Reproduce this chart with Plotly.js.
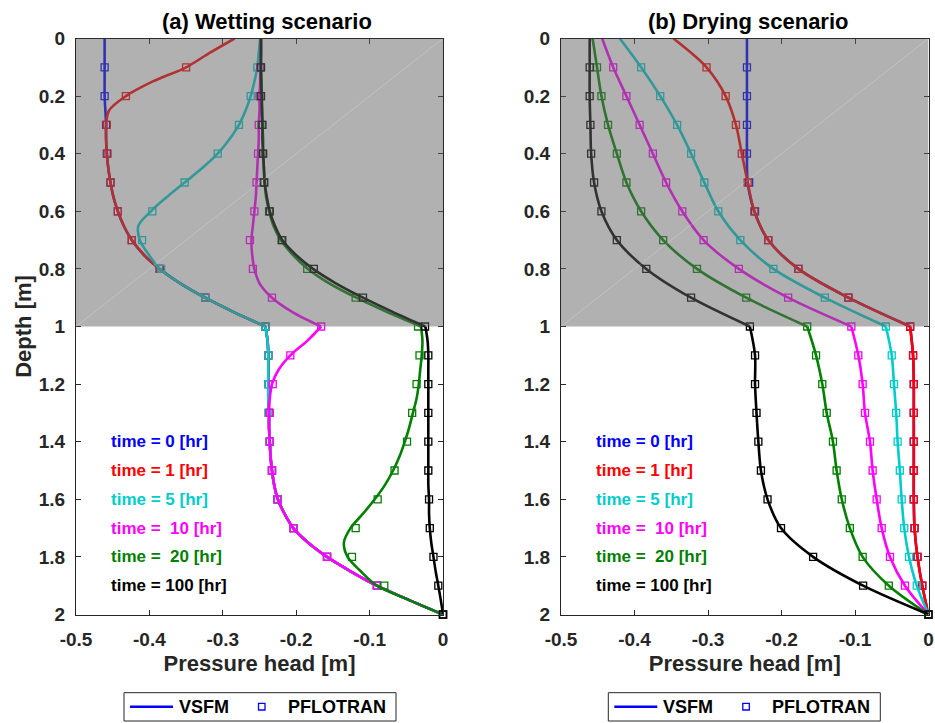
<!DOCTYPE html>
<html><head><meta charset="utf-8">
<script src="https://cdn.plot.ly/plotly-3.0.1.min.js"></script>
<style>html,body{margin:0;padding:0;background:#fff}#chart{width:935px;height:723px}</style>
</head><body><div id="chart"></div><script>
// ---------- DATA ----------
const depthLineWet = [0,0.05,0.1,0.15,0.2,0.25,0.3,0.35,0.4,0.45,0.5,0.55,0.6,0.65,0.7,0.75,0.8,0.85,0.9,0.95,1.0,
  1.05,1.1,1.15,1.2,1.25,1.3,1.35,1.4,1.45,1.5,1.55,1.6,1.65,1.7,1.75,1.8,1.85,1.9,1.95,2.0];
const depthLineDry = [0,0.1,0.2,0.3,0.4,0.5,0.6,0.7,0.8,0.9,1.0,1.1,1.2,1.3,1.4,1.5,1.6,1.7,1.8,1.9,2.0];
const depthMarker = [0.1,0.2,0.3,0.4,0.5,0.6,0.7,0.8,0.9,1.0,1.1,1.2,1.3,1.4,1.5,1.6,1.7,1.8,1.9,2.0];

const timeLabels = ['time = 0 [hr]','time = 1 [hr]','time = 5 [hr]','time =\u00a0 10 [hr]','time =\u00a0 20 [hr]','time = 100 [hr]'];
const timeColors = ['#0000ff','#ff0000','#00cccc','#ff00ff','#008000','#000000'];
const legendNames = ['VSFM','PFLOTRAN'];
const xTickVals = [-0.5,-0.4,-0.3,-0.2,-0.1,0];
const xTickText = ['-0.5','-0.4','-0.3','-0.2','-0.1','0'];
const yTickVals = [0,0.2,0.4,0.6,0.8,1,1.2,1.4,1.6,1.8,2];
const yTickText = ['0','0.2','0.4','0.6','0.8','1','1.2','1.4','1.6','1.8','2'];

// Wetting scenario, VSFM (lines)
const wetLine_t0 = [-0.461,-0.461,-0.461,-0.461,-0.461,-0.460,-0.459,-0.459,-0.458,-0.456,-0.453,-0.449,-0.443,-0.435,-0.424,-0.408,-0.386,-0.358,-0.324,-0.285,-0.242,
  -0.239,-0.238,-0.238,-0.238,-0.238,-0.237,-0.237,-0.236,-0.235,-0.233,-0.230,-0.225,-0.216,-0.204,-0.184,-0.158,-0.126,-0.090,-0.046,0];
const wetLine_t1 = [-0.284,-0.318,-0.350,-0.396,-0.432,-0.455,-0.459,-0.459,-0.458,-0.456,-0.453,-0.449,-0.443,-0.435,-0.424,-0.408,-0.386,-0.358,-0.324,-0.285,-0.242,
  -0.239,-0.238,-0.238,-0.238,-0.238,-0.237,-0.237,-0.236,-0.235,-0.233,-0.230,-0.225,-0.216,-0.204,-0.184,-0.158,-0.126,-0.090,-0.046,0];
const wetLine_t5 = [-0.249,-0.251,-0.253,-0.257,-0.262,-0.269,-0.278,-0.291,-0.307,-0.328,-0.352,-0.376,-0.398,-0.415,-0.413,-0.401,-0.386,-0.358,-0.324,-0.285,-0.242,
  -0.239,-0.238,-0.238,-0.238,-0.238,-0.237,-0.237,-0.236,-0.235,-0.233,-0.230,-0.225,-0.216,-0.204,-0.184,-0.158,-0.126,-0.090,-0.046,0];
const wetLine_t10 = [-0.248,-0.248,-0.249,-0.249,-0.250,-0.250,-0.251,-0.251,-0.252,-0.253,-0.254,-0.255,-0.257,-0.259,-0.261,-0.260,-0.257,-0.250,-0.233,-0.205,-0.166,
  -0.185,-0.208,-0.224,-0.233,-0.236,-0.237,-0.237,-0.236,-0.235,-0.233,-0.230,-0.225,-0.216,-0.204,-0.184,-0.158,-0.126,-0.090,-0.046,0];
const wetLine_t20 = [-0.248,-0.248,-0.248,-0.247,-0.247,-0.246,-0.246,-0.245,-0.245,-0.244,-0.243,-0.241,-0.237,-0.231,-0.221,-0.205,-0.184,-0.155,-0.118,-0.076,-0.030,
  -0.028,-0.029,-0.031,-0.033,-0.036,-0.041,-0.046,-0.052,-0.059,-0.068,-0.079,-0.093,-0.109,-0.126,-0.135,-0.130,-0.112,-0.090,-0.046,0];
const wetLine_t100 = [-0.248,-0.248,-0.248,-0.248,-0.247,-0.247,-0.246,-0.246,-0.245,-0.244,-0.243,-0.240,-0.236,-0.229,-0.219,-0.201,-0.177,-0.146,-0.109,-0.068,-0.024,
  -0.021,-0.020,-0.020,-0.020,-0.020,-0.020,-0.020,-0.020,-0.020,-0.020,-0.020,-0.019,-0.019,-0.018,-0.016,-0.013,-0.010,-0.0064,-0.003,0];

// Wetting scenario, PFLOTRAN (markers)
const wetPf_t0 = [-0.461,-0.461,-0.459,-0.458,-0.453,-0.443,-0.424,-0.386,-0.324,-0.242,-0.238,-0.238,-0.237,-0.236,-0.233,-0.2255,-0.2036,-0.158,-0.090,0];
const wetPf_t1 = [-0.350,-0.432,-0.458,-0.457,-0.453,-0.443,-0.424,-0.386,-0.324,-0.242,-0.238,-0.238,-0.237,-0.236,-0.233,-0.2255,-0.2036,-0.158,-0.090,0];
const wetPf_t5 = [-0.253,-0.262,-0.278,-0.307,-0.352,-0.396,-0.410,-0.384,-0.324,-0.242,-0.238,-0.238,-0.238,-0.236,-0.233,-0.2255,-0.2036,-0.158,-0.090,0];
const wetPf_t10 = [-0.249,-0.250,-0.251,-0.252,-0.254,-0.257,-0.263,-0.259,-0.233,-0.166,-0.208,-0.232,-0.236,-0.236,-0.233,-0.2255,-0.2036,-0.158,-0.090,0];
const wetPf_t20 = [-0.248,-0.248,-0.247,-0.246,-0.244,-0.237,-0.220,-0.185,-0.119,-0.034,-0.032,-0.036,-0.042,-0.049,-0.066,-0.089,-0.119,-0.124,-0.080,0];
const wetPf_t100 = [-0.248,-0.248,-0.246,-0.245,-0.2435,-0.236,-0.219,-0.176,-0.109,-0.0245,-0.020,-0.020,-0.020,-0.020,-0.020,-0.019,-0.018,-0.013,-0.0064,0];

// Drying scenario, VSFM (lines)
const dryLine_t0 = [-0.247,-0.247,-0.247,-0.247,-0.247,-0.246,-0.237,-0.218,-0.177,-0.109,-0.025,-0.021,-0.020,-0.020,-0.020,-0.020,-0.020,-0.019,-0.015,-0.0085,0];
const dryLine_t1 = [-0.347,-0.302,-0.276,-0.262,-0.254,-0.246,-0.237,-0.218,-0.177,-0.109,-0.025,-0.021,-0.020,-0.020,-0.020,-0.020,-0.020,-0.019,-0.015,-0.0085,0];
const dryLine_t5 = [-0.420,-0.391,-0.365,-0.342,-0.323,-0.305,-0.286,-0.256,-0.211,-0.141,-0.058,-0.050,-0.047,-0.044,-0.042,-0.039,-0.0365,-0.033,-0.0265,-0.016,0];
const dryLine_t10 = [-0.444,-0.429,-0.411,-0.393,-0.375,-0.357,-0.335,-0.306,-0.258,-0.191,-0.105,-0.0955,-0.0896,-0.0864,-0.0796,-0.076,-0.0705,-0.0637,-0.0524,-0.032,0];
const dryLine_t20 = [-0.457,-0.451,-0.445,-0.436,-0.424,-0.411,-0.391,-0.361,-0.315,-0.248,-0.165,-0.153,-0.1445,-0.1385,-0.130,-0.125,-0.118,-0.107,-0.0896,-0.054,0];
const dryLine_t100 = [-0.461,-0.461,-0.461,-0.460,-0.459,-0.455,-0.445,-0.424,-0.384,-0.323,-0.243,-0.236,-0.236,-0.234,-0.2315,-0.228,-0.219,-0.2007,-0.157,-0.089,0];

// Drying scenario, PFLOTRAN (markers)
const dryPf_t0 = [-0.247,-0.247,-0.247,-0.247,-0.244,-0.236,-0.218,-0.177,-0.109,-0.025,-0.021,-0.020,-0.020,-0.020,-0.020,-0.020,-0.019,-0.015,-0.0085,0];
const dryPf_t1 = [-0.302,-0.276,-0.262,-0.254,-0.246,-0.237,-0.218,-0.177,-0.109,-0.025,-0.021,-0.020,-0.020,-0.020,-0.020,-0.020,-0.019,-0.015,-0.0085,0];
const dryPf_t5 = [-0.391,-0.365,-0.342,-0.323,-0.305,-0.286,-0.256,-0.211,-0.141,-0.058,-0.050,-0.047,-0.044,-0.042,-0.039,-0.0365,-0.033,-0.0265,-0.016,0];
const dryPf_t10 = [-0.429,-0.411,-0.393,-0.375,-0.357,-0.335,-0.306,-0.258,-0.191,-0.105,-0.0955,-0.0896,-0.0864,-0.0796,-0.076,-0.0705,-0.0637,-0.0524,-0.032,0];
const dryPf_t20 = [-0.451,-0.445,-0.436,-0.424,-0.411,-0.391,-0.361,-0.315,-0.248,-0.165,-0.153,-0.1445,-0.1385,-0.130,-0.125,-0.118,-0.107,-0.0896,-0.054,0];
const dryPf_t100 = [-0.461,-0.461,-0.460,-0.459,-0.455,-0.445,-0.424,-0.384,-0.323,-0.243,-0.236,-0.236,-0.234,-0.2315,-0.228,-0.219,-0.2007,-0.157,-0.089,0];

// ---------- BUILD ----------
const FONT = 'Liberation Sans, Arial, sans-serif';
const AXC = '#262626';
const W = 935, H = 723;
const wetLines = [wetLine_t0,wetLine_t1,wetLine_t5,wetLine_t10,wetLine_t20,wetLine_t100];
const wetPfs = [wetPf_t0,wetPf_t1,wetPf_t5,wetPf_t10,wetPf_t20,wetPf_t100];
const dryLines = [dryLine_t0,dryLine_t1,dryLine_t5,dryLine_t10,dryLine_t20,dryLine_t100];
const dryPfs = [dryPf_t0,dryPf_t1,dryPf_t5,dryPf_t10,dryPf_t20,dryPf_t100];

const traces = [];
function addPanel(lines, pfs, depthLine, xa, ya){
  const split = depthLine.indexOf(1.0);
  for (let i=0;i<lines.length;i++){
    const c = timeColors[i];
    const segs = [[0, split+1],[split, depthLine.length]];
    segs.forEach(s=>{
      traces.push({x: lines[i].slice(s[0],s[1]), y: depthLine.slice(s[0],s[1]), xaxis: xa, yaxis: ya,
        mode:'lines', line:{color:c, width:2.6, shape:'spline', smoothing:0.9}, showlegend:false, cliponaxis:false, hoverinfo:'skip'});
    });
    traces.push({x: pfs[i], y: depthMarker, xaxis: xa, yaxis: ya, mode:'markers',
      marker:{symbol:'square-open', size:7, color:c, line:{width:1.3, color:c}}, showlegend:false, cliponaxis:false, hoverinfo:'skip'});
  }
}
addPanel(wetLines, wetPfs, depthLineWet, 'x', 'y');
addPanel(dryLines, dryPfs, depthLineDry, 'x2', 'y2');

function xax(domain, anchor){
  return {domain: domain, anchor: anchor, range:[-0.5,0], tickvals:xTickVals, ticktext:xTickText, automargin:false,
    ticks:'inside', ticklen:5, tickwidth:1, tickcolor:AXC, showline:true, linecolor:AXC, linewidth:1, mirror:'ticks',
    showgrid:false, zeroline:false, ticklabelstandoff:8,
    tickfont:{family:FONT, size:19, color:AXC, weight:'bold'},
    title:{text:'Pressure head [m]', font:{family:FONT, size:22, color:AXC, weight:'bold'}, standoff:6}};
}
function yax(domain, anchor, withTitle){
  const a = {domain: domain, anchor: anchor, range:[2,0], tickvals:yTickVals, ticktext:yTickText, automargin:false,
    ticks:'inside', ticklen:5, tickwidth:1, tickcolor:AXC, showline:true, linecolor:AXC, linewidth:1, mirror:'ticks',
    showgrid:false, zeroline:false, ticklabelstandoff:6,
    tickfont:{family:FONT, size:19, color:AXC, weight:'bold'}};
  if (withTitle) a.title = {text:'Depth [m]', font:{family:FONT, size:22, color:AXC, weight:'bold'}, standoff:1};
  return a;
}
const yDom = [1-614.5/H, 1-38.5/H];

const shapes = [];
const annotations = [];
[['x','y'],['x2','y2']].forEach(r=>{
  shapes.push({type:'rect', xref:r[0], yref:r[1], x0:-0.5, x1:0, y0:0, y1:1, fillcolor:'rgba(100,100,100,0.5)', line:{width:0}, layer:'above'});
  shapes.push({type:'line', xref:r[0], yref:r[1], x0:-0.5, y0:1, x1:0, y1:0, line:{color:'rgba(255,255,255,0.22)', width:1}, layer:'above'});
  timeLabels.forEach((t,i)=>{
    annotations.push({xref:r[0], yref:r[1], x:-0.455, y:1.4+0.1*i, text:t, showarrow:false, xanchor:'left', yanchor:'middle',
      font:{family:FONT, size:17, color:timeColors[i], weight:'bold'}});
  });
});
annotations.push({xref:'paper', yref:'paper', x:266.7/W, y:1-21/H, text:'(a) Wetting scenario', showarrow:false, xanchor:'center', yanchor:'middle',
  font:{family:FONT, size:22, color:'#000', weight:'bold'}});
annotations.push({xref:'paper', yref:'paper', x:748/W, y:1-21/H, text:'(b) Drying scenario', showarrow:false, xanchor:'center', yanchor:'middle',
  font:{family:FONT, size:22, color:'#000', weight:'bold'}});

// legend boxes (key for line = VSFM, open square = PFLOTRAN), one under each panel
[124, 608.3].forEach(left=>{
  const top = 692.7, bot = 721, mid = 706.7;
  shapes.push({type:'rect', xref:'paper', yref:'paper', x0:left/W, x1:(left+272)/W, y0:1-bot/H, y1:1-top/H,
    fillcolor:'#fff', line:{color:AXC, width:1}, layer:'above'});
  shapes.push({type:'line', xref:'paper', yref:'paper', x0:(left+6)/W, x1:(left+49)/W, y0:1-mid/H, y1:1-mid/H,
    line:{color:'#0000ff', width:2.6}, layer:'above'});
  shapes.push({type:'rect', xref:'paper', yref:'paper', x0:(left+134.5)/W, x1:(left+141)/W, y0:1-(mid+3.3)/H, y1:1-(mid-3.3)/H,
    fillcolor:'rgba(0,0,0,0)', line:{color:'#0000ff', width:1.3}, layer:'above'});
  annotations.push({xref:'paper', yref:'paper', x:(left+53)/W, y:1-mid/H, text:legendNames[0], showarrow:false, xanchor:'left', yanchor:'middle',
    font:{family:FONT, size:18, color:'#000', weight:'bold'}});
  annotations.push({xref:'paper', yref:'paper', x:(left+162)/W, y:1-mid/H, text:legendNames[1], showarrow:false, xanchor:'left', yanchor:'middle',
    font:{family:FONT, size:18, color:'#000', weight:'bold'}});
});

const layout = {
  width:W, height:H, margin:{l:0,r:0,t:0,b:0}, paper_bgcolor:'#fff', plot_bgcolor:'#fff',
  xaxis: xax([76/W, 443/W], 'y'),
  yaxis: yax(yDom, 'x', true),
  xaxis2: xax([561/W, 928.5/W], 'y2'),
  yaxis2: yax(yDom, 'x2', false),
  shapes: shapes, annotations: annotations,
  showlegend:false
};
Plotly.newPlot('chart', traces, layout, {displayModeBar:false, staticPlot:true});
</script></body></html>
